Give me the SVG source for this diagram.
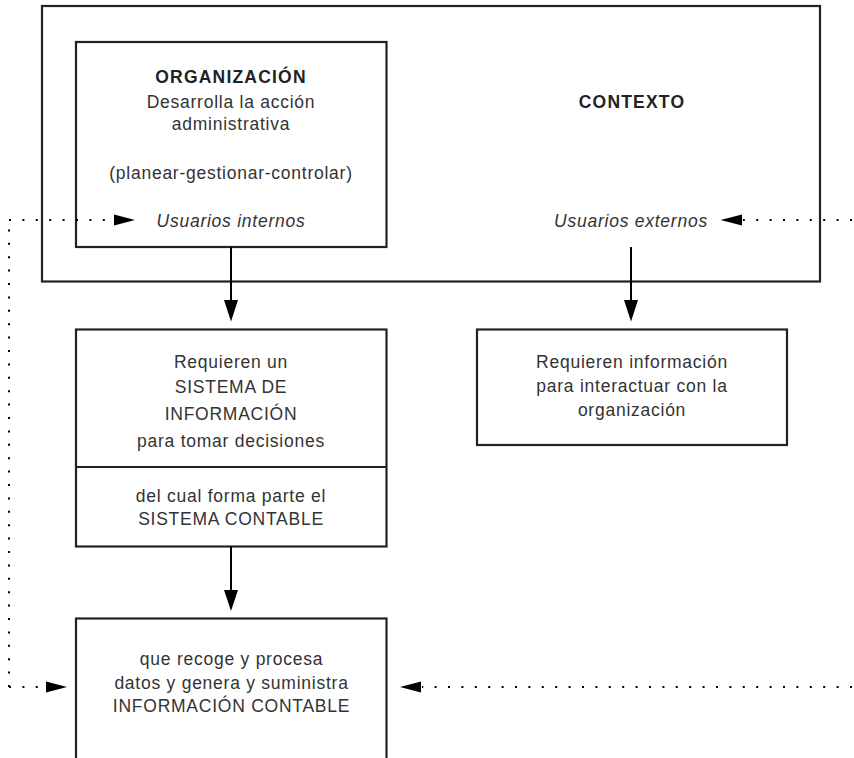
<svg xmlns="http://www.w3.org/2000/svg" width="854" height="758" viewBox="0 0 854 758">
<defs>
<style>
.box{fill:none;stroke:#222;stroke-width:2.2}
.t{font-family:"Liberation Sans",Arial,sans-serif;font-size:17.5px;fill:#333;text-anchor:middle;letter-spacing:0.75px}
.b{font-weight:bold;letter-spacing:1.2px;fill:#222}
.i{font-style:italic}
.solid{stroke:#000;stroke-width:2;fill:none}
.dot{stroke:#000;stroke-width:2;fill:none;stroke-dasharray:2 11.4}
.head{fill:#000}
</style>
</defs>
<rect width="854" height="758" fill="#fff"/>
<g id="contexto">
<rect class="box" x="42" y="6" width="778" height="275.5"/>
<text class="t b" x="632" y="108">CONTEXTO</text>
<text class="t i" x="631" y="227">Usuarios externos</text>
</g>
<g id="organizacion">
<rect class="box" x="76" y="42" width="310.5" height="205" fill="#fff"/>
<text class="t b" x="231" y="83">ORGANIZACIÓN</text>
<text class="t" x="231" y="107.5">Desarrolla la acción</text>
<text class="t" x="231" y="130">administrativa</text>
<text class="t" x="231" y="179">(planear-gestionar-controlar)</text>
<text class="t i" x="231" y="227">Usuarios internos</text>
</g>
<g id="sistema-informacion">
<rect class="box" x="76" y="329.5" width="310.5" height="217"/>
<line class="box" x1="76" y1="467" x2="386.5" y2="467"/>
<text class="t" x="231" y="368">Requieren un</text>
<text class="t" x="231" y="393">SISTEMA DE</text>
<text class="t" x="231" y="420">INFORMACIÓN</text>
<text class="t" x="231" y="446.5">para tomar decisiones</text>
<text class="t" x="231" y="501.5">del cual forma parte el</text>
<text class="t" x="231" y="525">SISTEMA CONTABLE</text>
</g>
<g id="usuarios-externos-req">
<rect class="box" x="477" y="329.5" width="310" height="115.5"/>
<text class="t" x="632" y="368">Requieren información</text>
<text class="t" x="632" y="392">para interactuar con la</text>
<text class="t" x="632" y="416">organización</text>
</g>
<g id="informacion-contable">
<rect class="box" x="76" y="618.5" width="310.5" height="160"/>
<text class="t" x="231.5" y="665">que recoge y procesa</text>
<text class="t" x="231.5" y="688.5">datos y genera y suministra</text>
<text class="t" x="231.5" y="712">INFORMACIÓN CONTABLE</text>
</g>
<g id="connectors">
<line class="solid" x1="231" y1="247" x2="231" y2="302"/>
<polygon class="head" points="224,300 238,300 231,321.5"/>
<line class="solid" x1="631" y1="247" x2="631" y2="302"/>
<polygon class="head" points="624,300 638,300 631,321.5"/>
<line class="solid" x1="231" y1="546.5" x2="231" y2="592"/>
<polygon class="head" points="224,590 238,590 231,611"/>
<path class="dot" d="M9,687 V220"/>
<path class="dot" d="M9,220 H114"/>
<polygon class="head" points="114,214.5 114,225.5 135,220"/>
<path class="dot" d="M9,687 H46"/>
<polygon class="head" points="46,681.5 46,692.5 67,687"/>
<path class="dot" d="M852,220 H743"/>
<polygon class="head" points="742,214.5 742,225.5 720.5,220"/>
<path class="dot" d="M852,687 H422"/>
<polygon class="head" points="421,681.5 421,692.5 400,687"/>
</g>
</svg>
